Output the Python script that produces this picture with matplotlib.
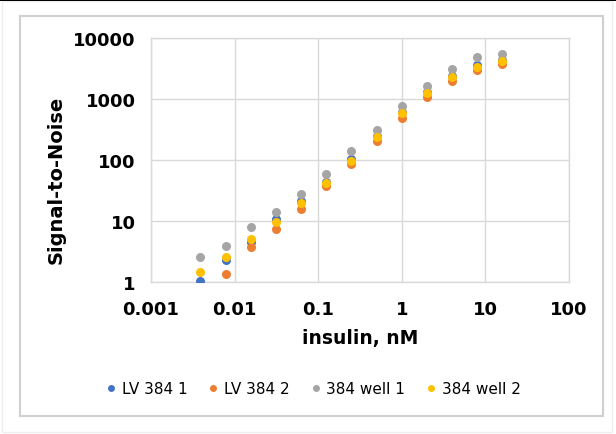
import numpy as np
import matplotlib.pyplot as plt
from matplotlib.patches import Rectangle
from matplotlib.lines import Line2D
from matplotlib.ticker import FixedLocator, FuncFormatter, NullLocator

# insulin concentration, nM
insulin = [0.0039, 0.0078, 0.0156, 0.03125, 0.0625, 0.125, 0.25, 0.5, 1, 2, 4, 8, 16]

lv384_1 = [1.04, 2.3, 4.6, 10.8, 21, 44, 103, 250, 610, 1300, 2380, 3560, 4400]
lv384_2 = [0.8, 1.34, 3.74, 7.3, 15.8, 37, 87, 206, 490, 1090, 1970, 3000, 3760]
well384_1 = [2.55, 3.9, 7.9, 14.3, 27.5, 58, 139, 316, 776, 1650, 3070, 4800, 5500]
well384_2 = [1.44, 2.55, 5.0, 9.6, 20, 42, 98, 239, 580, 1240, 2270, 3400, 4200]

names = ["LV 384 1", "LV 384 2", "384 well 1", "384 well 2"]
colors = ["#4472C4", "#ED7D31", "#A5A5A5", "#FFC000"]

xticks = [0.001, 0.01, 0.1, 1, 10, 100]
yticks = [1, 10, 100, 1000, 10000]

W, H = 616, 435
fig = plt.figure(figsize=(W / 100, H / 100), dpi=100)

# frame around the chart (like an Excel chart area)
fig.patches.append(Rectangle((2 / W, 2 / H), 610 / W, 431 / H, transform=fig.transFigure,
                             fill=False, edgecolor="#EEEEEE", lw=1))
fig.patches.append(Rectangle((20 / W, 1 - 417 / H), 583 / W, 400 / H, transform=fig.transFigure,
                             fill=False, edgecolor="#D0D0D0", lw=1.5))
fig.patches.append(Rectangle((0, 1 - 2 / H), 1, 2 / H, transform=fig.transFigure,
                             facecolor="black", edgecolor="none"))

ax = fig.add_axes([151 / W, 1 - 283 / H, 418 / W, 244 / H])

series = [lv384_1, lv384_2, well384_1, well384_2]
for vals, name, c in zip(series, names, colors):
    ax.plot(insulin, vals, "o", color=c, markersize=6.5, markeredgewidth=0, label=name, zorder=3)

ax.set_xscale("log")
ax.set_yscale("log")
ax.set_xlim(0.001, 100)
ax.set_ylim(1, 10000)

ax.xaxis.set_major_locator(FixedLocator(xticks))
ax.yaxis.set_major_locator(FixedLocator(yticks))
ax.xaxis.set_minor_locator(NullLocator())
ax.yaxis.set_minor_locator(NullLocator())
fmt = FuncFormatter(lambda v, p: "{:g}".format(v))
ax.xaxis.set_major_formatter(fmt)
ax.yaxis.set_major_formatter(fmt)

ax.tick_params(axis="both", length=0, labelsize=13, colors="#000000")
ax.tick_params(axis="x", pad=13)
ax.tick_params(axis="y", pad=11)
for lab in ax.get_xticklabels() + ax.get_yticklabels():
    lab.set_fontweight("bold")

ax.grid(True, color="#D9D9D9", lw=1)
ax.set_axisbelow(True)
for s in ax.spines.values():
    s.set_color("#D9D9D9")
    s.set_linewidth(1)

fig.text(360 / W, 1 - 339 / H, "insulin, nM", ha="center", va="center",
         fontsize=13.5, fontweight="bold")
fig.text(56 / W, 1 - 180 / H, "Signal-to-Noise", ha="center", va="center",
         rotation=90, fontsize=14, fontweight="bold")

handles = [Line2D([], [], marker="o", ls="none", color=c, markersize=5, markeredgewidth=0)
           for c in colors]
fig.legend(handles, names, loc="center", bbox_to_anchor=(314 / W, 1 - 390 / H), ncol=4,
           frameon=False, fontsize=11, handlelength=0.5, handletextpad=0.45,
           columnspacing=1.45)

fig.savefig("out.png", dpi=100)
